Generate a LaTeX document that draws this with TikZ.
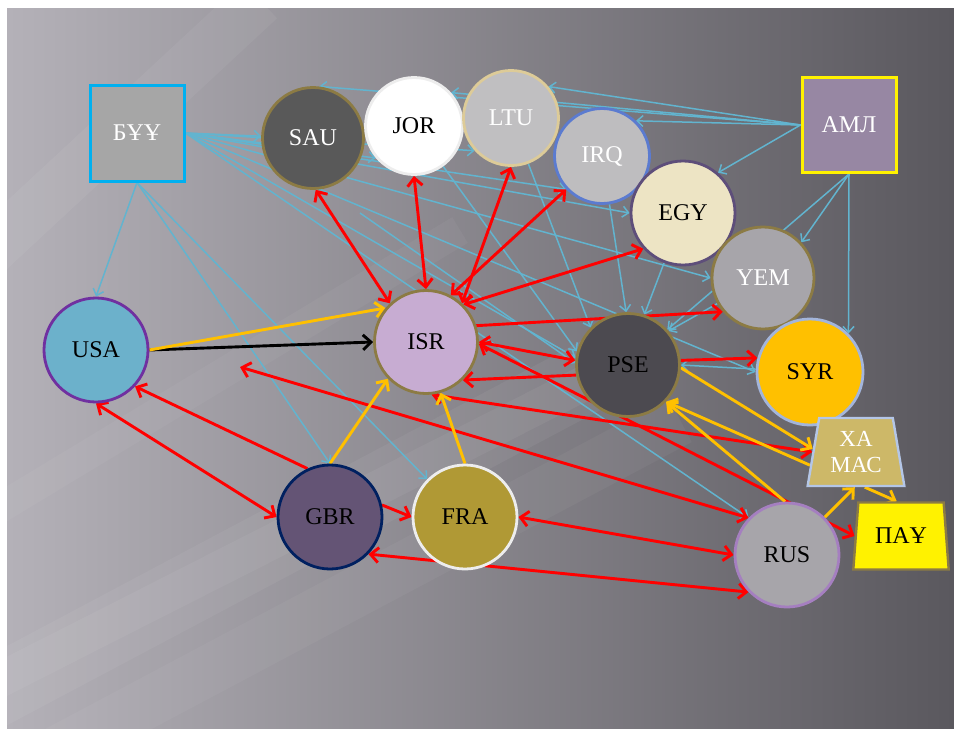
\documentclass[tikz,border=0pt]{standalone}
\usepackage{fontspec}
\setmainfont{Liberation Serif}
\usetikzlibrary{arrows.meta,shapes.geometric}
\pgfdeclarelayer{bg}
\pgfdeclarelayer{edges}
\pgfsetlayers{bg,edges,main}
\definecolor{bgL}{HTML}{B4B1B8}
\definecolor{bgM}{HTML}{7C7980}
\definecolor{bgR}{HTML}{5A585E}
\definecolor{cyanE}{HTML}{62B4CF}
\definecolor{redE}{HTML}{FF0000}
\definecolor{yelE}{HTML}{FFC000}
\definecolor{oliveB}{HTML}{8C7B44}
\definecolor{buuF}{HTML}{A6A6A6}
\definecolor{buuB}{HTML}{00B0F0}
\definecolor{amlF}{HTML}{9787A3}
\definecolor{sauF}{HTML}{595959}
\definecolor{jorB}{HTML}{EDEDED}
\definecolor{ltuF}{HTML}{C0BFC1}
\definecolor{ltuB}{HTML}{DDCB98}
\definecolor{irqF}{HTML}{BEBDBF}
\definecolor{irqB}{HTML}{5B7BD0}
\definecolor{egyF}{HTML}{EDE4C4}
\definecolor{egyB}{HTML}{5E4E7A}
\definecolor{yemF}{HTML}{A7A5AA}
\definecolor{usaF}{HTML}{6CB1CB}
\definecolor{usaB}{HTML}{7030A0}
\definecolor{isrF}{HTML}{C7ACD2}
\definecolor{pseF}{HTML}{4C4A50}
\definecolor{syrB}{HTML}{A3B5DB}
\definecolor{hamF}{HTML}{CDB868}
\definecolor{hamB}{HTML}{B4C6E7}
\definecolor{gbrF}{HTML}{645475}
\definecolor{gbrB}{HTML}{002060}
\definecolor{fraF}{HTML}{B09935}
\definecolor{rusF}{HTML}{A7A5AA}
\definecolor{rusB}{HTML}{A57FC0}
\newcommand\lbl{\fontsize{24}{26}\selectfont}
\begin{document}
\begin{tikzpicture}[x=1pt,y=-1pt,
  ctry/.style={circle,line width=2.8pt,inner sep=0pt,font=\lbl},
  boxnode/.style={rectangle,line width=3pt,inner sep=0pt,font=\lbl,text=white},
  trap/.style={trapezium,trapezium stretches=true,trapezium left angle=79,trapezium right angle=79,inner sep=0pt,line width=2.4pt},
  cy/.style={draw=cyanE,line width=1.5pt,-{Straight Barb[length=6pt,width=11pt]}},
  rd/.style={draw=redE,line width=2.9pt,-{Straight Barb[length=8pt,width=15pt]}},
  rdd/.style={draw=redE,line width=2.9pt,{Straight Barb[length=8pt,width=15pt]}-{Straight Barb[length=8pt,width=15pt]}},
  yl/.style={draw=yelE,line width=2.9pt,-{Straight Barb[length=8pt,width=15pt]}},
  bk/.style={draw=black,line width=2.9pt,-{Straight Barb[length=8pt,width=15pt]}},
  streak/.style={white,line cap=butt}]
\useasboundingbox (0,0) rectangle (954,731);
\begin{pgfonlayer}{bg}
  \fill[white] (0,0) rectangle (954,731);
  \shade[left color=bgL,middle color=bgM,right color=bgR] (7,8) rectangle (954,728);
  \begin{scope}
    \clip (7,8) rectangle (954,728);
    \draw[streak,opacity=0.05,line width=70pt] (-20,700) -- (620,360);
    \draw[streak,opacity=0.05,line width=35pt] (-20,690) -- (620,365);
    \draw[streak,opacity=0.04,line width=50pt] (40,760) -- (680,420);
    \draw[streak,opacity=0.05,line width=50pt] (-20,260) -- (260,0);
    \draw[streak,opacity=0.04,line width=30pt] (-20,520) -- (460,230);
  \end{scope}
\end{pgfonlayer}

% nodes
\node[boxnode,draw=buuB,fill=buuF,minimum width=94pt,minimum height=96pt] (buu) at (137,133) {БҰҰ};
\node[boxnode,draw=yellow,fill=amlF,minimum width=94pt,minimum height=95pt] (aml) at (849,125) {АМЛ};
\node[ctry,minimum size=101pt,fill=sauF,draw=oliveB,text=white] (sau) at (313,138) {SAU};
\node[ctry,minimum size=97pt,fill=white,draw=jorB,text=black] (jor) at (414,126) {JOR};
\node[ctry,minimum size=95pt,fill=ltuF,draw=ltuB,text=white] (ltu) at (511,118) {LTU};
\node[ctry,minimum size=95pt,fill=irqF,draw=irqB,text=white] (irq) at (602,156) {IRQ};
\node[ctry,minimum size=104pt,fill=egyF,draw=egyB,text=black] (egy) at (683,213) {EGY};
\node[ctry,minimum size=102pt,fill=yemF,draw=oliveB,text=white] (yem) at (763,278) {YEM};
\node[ctry,minimum size=104pt,fill=usaF,draw=usaB,text=black] (usa) at (96,350) {USA};
\node[ctry,minimum size=103pt,fill=isrF,draw=oliveB,text=black] (isr) at (426,342) {ISR};
\node[ctry,minimum size=103pt,fill=pseF,draw=oliveB,text=black] (pse) at (628,365) {PSE};
\node[ctry,minimum size=106pt,fill=yelE,draw=syrB,text=black] (syr) at (810,372) {SYR};
\node[trap,minimum width=97pt,minimum height=68pt,fill=hamF,draw=hamB,text=white,align=center,font=\fontsize{23}{26}\selectfont] (ham) at (856,452) {ХА\\МАС};
\node[trap,minimum width=96pt,minimum height=67pt,fill=yellow,draw=oliveB,text=black,font=\lbl] (pay) at (901,536) {ПАҰ};
\node[ctry,minimum size=104pt,fill=gbrF,draw=gbrB,text=black] (gbr) at (330,517) {GBR};
\node[ctry,minimum size=104pt,fill=fraF,draw=jorB,text=black] (fra) at (465,517) {FRA};
\node[ctry,minimum size=104pt,fill=rusF,draw=rusB,text=black] (rus) at (787,555) {RUS};
\coordinate (f1) at (240,367);
\coordinate (f2) at (360,213);

\begin{pgfonlayer}{edges}
  % cyan
  \draw[cy] (buu.east) -- (sau.178);
  \draw[cy] (buu.east) -- (jor.-140);
  \draw[cy] (buu.east) -- (ltu.-138);
  \draw[cy] (buu.east) -- (irq.-137);
  \draw[cy] (buu.east) -- (egy.180);
  \draw[cy] (buu.east) -- (yem.180);
  \draw[cy] (buu.east) -- (pse.172);
  \draw[cy] (buu.east) -- (syr.180);
  \draw[cy] (buu.east) -- (rus.136);
  \draw[cy] (buu.south) -- (usa.90);
  \draw[cy] (buu.south) -- (gbr.90);
  \draw[cy] (buu.south) -- (fra.135);
  \draw[cy] (aml.west) -- (sau.83);
  \draw[cy] (aml.west) -- (jor.42);
  \draw[cy] (aml.west) -- (ltu.40);
  \draw[cy] (aml.west) -- (irq.46);
  \draw[cy] (aml.west) -- (egy.49);
  \draw[cy] (aml.south) -- (yem.43);
  \draw[cy] (aml.south) -- (syr.45);
  \draw[cy] (aml.south) -- (pse.42);
  \draw[cy] (f2) -- (pse.178);
  \draw[cy] (jor) -- (pse.165);
  \draw[cy] (ltu) -- (pse.135);
  \draw[cy] (irq) -- (pse.92);
  \draw[cy] (egy) -- (pse.72);
  \draw[cy] (yem) -- (pse.40);
  \draw[cy] (syr) -- (pse.0);
  % red
  \draw[rdd] (sau.-87) -- (isr.133);
  \draw[rdd] (jor.-90) -- (isr.90);
  \draw[rdd] (ltu.-90) -- (isr.47);
  \draw[rdd] (irq.-137) -- (isr.62);
  \draw[rdd] (egy.-138) -- (isr.45);
  \draw[rd] (isr.18) -- (yem.-140);
  \draw[rd] (pse.5) -- (syr.165);
  \draw[rdd] (pse.175) -- (isr.0);
  \draw[rd] (pse.-169) -- (isr.-46);
  \draw[rdd] (isr.-84) -- (ham.180);
  \draw[rdd] (isr.-2) -- (pay.180);
  \draw[rdd] (f1) -- (rus.136);
  \draw[rdd] (usa.-90) -- (gbr.180);
  \draw[rd] (gbr.115) -- (usa.-43);
  \draw[rd] (gbr.13) -- (fra.180);
  \draw[rdd] (gbr.-44) -- (rus.-136);
  \draw[rdd] (fra.0) -- (rus.180);
  % black & yellow
  \draw[bk] (usa.0) -- (isr.180);
  \draw[yl] (usa.0) -- (isr.140);
  \draw[yl] (gbr.90) -- (isr.-136);
  \draw[yl] (fra.90) -- (isr.-74);
  \draw[yl] (pse.-3) -- (ham.176);
  \draw[yl] (ham.-164) -- (pse.-44);
  \draw[yl] (rus.92) -- (pse.-44);
  \draw[yl] (rus.45) -- (ham.-92);
  \draw[yl] (ham.-76) -- (pay.97);
\end{pgfonlayer}
\end{tikzpicture}
\end{document}
